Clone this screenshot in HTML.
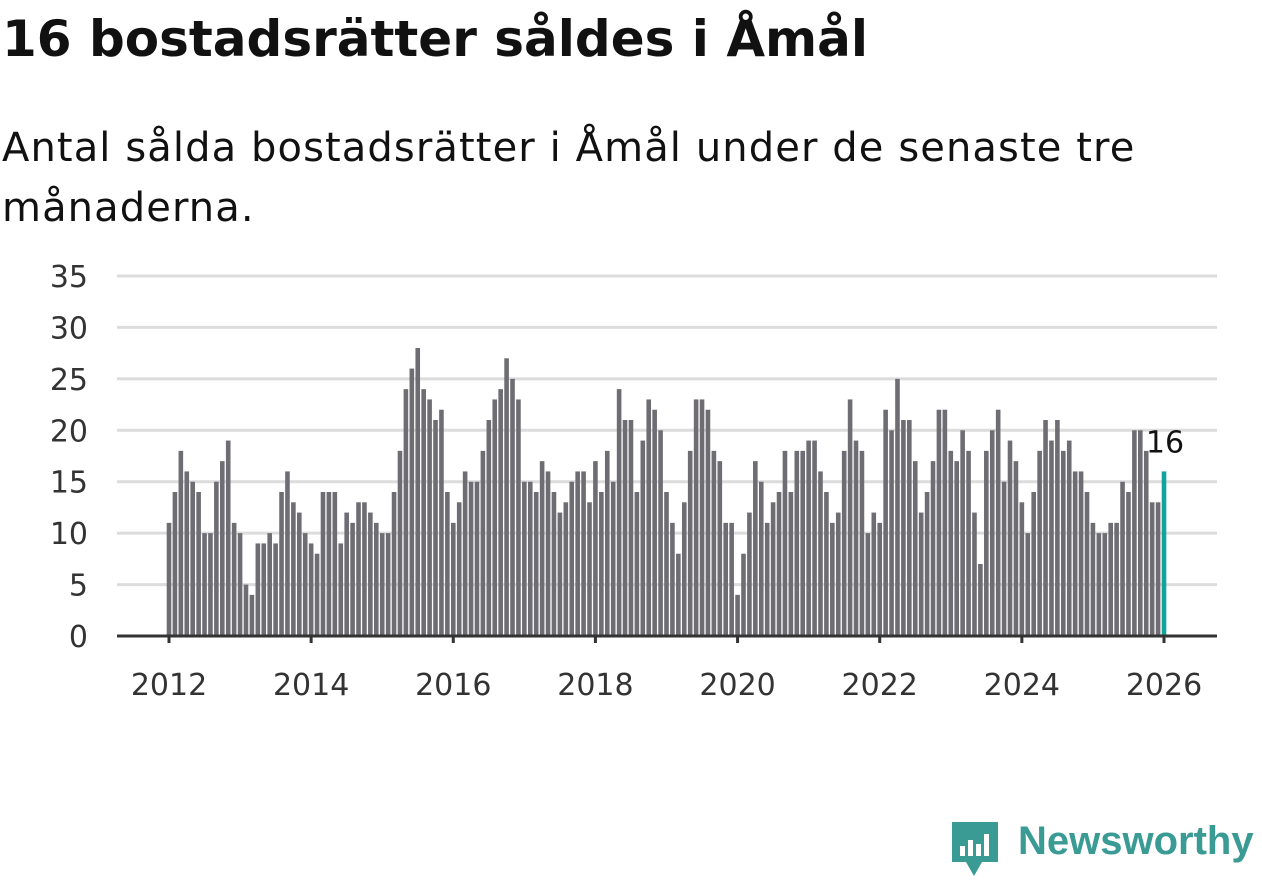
<!DOCTYPE html>
<html><head><meta charset="utf-8"><style>
body{margin:0;width:1262px;height:879px;background:#fff;font-family:"DejaVu Sans","Liberation Sans",sans-serif;overflow:hidden;position:relative}
h1{position:absolute;left:2px;top:10px;margin:0;font-size:50px;font-weight:bold;color:#111;letter-spacing:0px;white-space:nowrap}
.sub{position:absolute;left:2px;top:118px;margin:0;font-size:40px;line-height:60px;color:#111;width:1250px;letter-spacing:1.1px;white-space:nowrap}
svg{position:absolute;left:0;top:0}
</style></head><body>
<h1>16 bostadsrätter såldes i Åmål</h1>
<p class="sub">Antal sålda bostadsrätter i Åmål under de senaste tre<br>månaderna.</p>
<svg id="c" width="1262" height="879"></svg>
<div style="position:absolute;left:950px;top:818px;height:60px;">
<svg width="52" height="60" style="position:absolute;left:0;top:2px"><path d="M2 2h46v40l-16 0-8 14-8-14h-14z" fill="#3a9a94"/><rect x="10" y="26" width="5" height="10" fill="#fff"/><rect x="18" y="20" width="5" height="16" fill="#fff"/><rect x="26" y="24" width="5" height="12" fill="#fff"/><rect x="34" y="14" width="5" height="22" fill="#fff"/></svg>
<span style="position:absolute;left:68px;top:1px;font-size:40px;font-weight:bold;color:#3a9a94;white-space:nowrap;font-family:'Liberation Sans',sans-serif">Newsworthy</span>
</div>
<script>
const startYear = 2012;
const values = [11,14,18,16,15,14,10,10,15,17,19,11,
10,5,4,9,9,10,9,14,16,13,12,10,
9,8,14,14,14,9,12,11,13,13,12,11,
10,10,14,18,24,26,28,24,23,21,22,14,
11,13,16,15,15,18,21,23,24,27,25,23,
15,15,14,17,16,14,12,13,15,16,16,13,
17,14,18,15,24,21,21,14,19,23,22,20,
14,11,8,13,18,23,23,22,18,17,11,11,
4,8,12,17,15,11,13,14,18,14,18,18,
19,19,16,14,11,12,18,23,19,18,10,12,
11,22,20,25,21,21,17,12,14,17,22,22,
18,17,20,18,12,7,18,20,22,15,19,17,
13,10,14,18,21,19,21,18,19,16,16,14,
11,10,10,11,11,15,14,20,20,18,13,13,
16];
const yTicks = [0,5,10,15,20,25,30,35];
const xTicks = [2012,2014,2016,2018,2020,2022,2024,2026];
const svg = document.getElementById('c');
const NS='http://www.w3.org/2000/svg';
const FF='DejaVu Sans, Liberation Sans, sans-serif';
const y = v => 636 - v*(636-276)/35;
const x = i => 169 + i*(1164-169)/168;
function mk(tag, attrs){const e=document.createElementNS(NS,tag);for(const k in attrs)e.setAttribute(k,attrs[k]);svg.appendChild(e);return e;}
yTicks.forEach(t=>{
  if(t>0){const g=mk('line',{x1:117,x2:1217,y1:y(t),y2:y(t),stroke:'#dcdcdc','stroke-width':3});
  
  }
  const l=mk('text',{x:88,y:y(t)+11,'text-anchor':'end','font-size':30,fill:'#333','font-family':FF});
  l.textContent=t;
  
  
});
values.forEach((v,i)=>{
  const last=i===values.length-1;
  const r=mk('rect',{x:x(i)-2.3,y:y(v),width:4.6,height:636-y(v),fill:last?'#12a39a':'#6e6d73'});
  
  
});
const lv=values[values.length-1];
const lab=mk('text',{x:x(values.length-1)+1,y:y(lv)-19,'text-anchor':'middle','font-size':30,fill:'#111','font-family':FF});
lab.textContent=lv;


const ax=mk('line',{x1:117,x2:1217,y1:636,y2:636,stroke:'#333','stroke-width':3});


xTicks.forEach(t=>{
  const xi=x((t-startYear)*12);
  const tk=mk('line',{x1:xi,x2:xi,y1:636,y2:643,stroke:'#333','stroke-width':3});
  
  
  const l=mk('text',{x:xi,y:695,'text-anchor':'middle','font-size':30,fill:'#333','font-family':FF});
  l.textContent=t;
  
  
});
</script>
</body></html>
